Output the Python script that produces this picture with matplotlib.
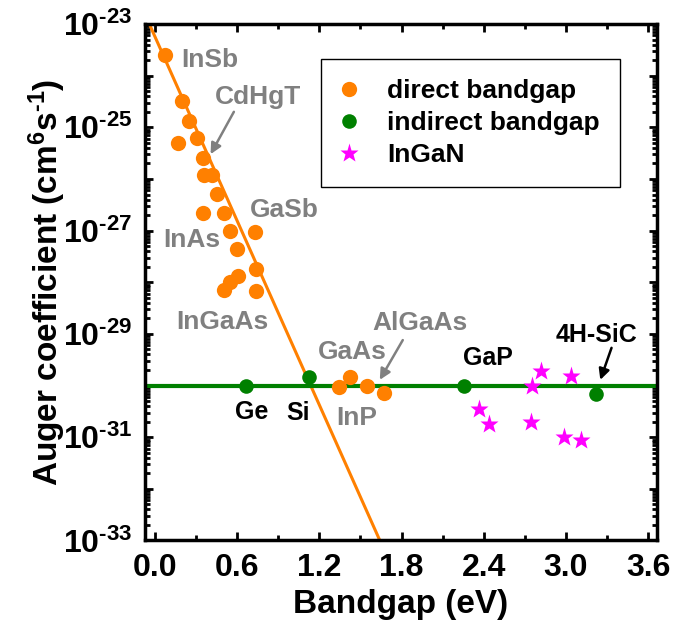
import numpy as np
import matplotlib
matplotlib.use("Agg")
import matplotlib.pyplot as plt
from matplotlib.ticker import FixedLocator, LogLocator, NullFormatter

# Auger coefficients vs bandgap
direct_eg = [0.073, 0.195, 0.250, 0.170, 0.304, 0.352, 0.357, 0.414, 0.454, 0.352,
             0.505, 0.547, 0.729, 0.596, 0.737, 0.503, 0.547, 0.608, 0.737,
             1.344, 1.422, 1.549, 1.673]
direct_c = [2.5e-24, 3.2e-25, 1.35e-25, 4.9e-26, 6.2e-26, 2.6e-26, 1.2e-26, 1.2e-26,
            5.1e-27, 2.2e-27, 2.2e-27, 1.0e-27, 9.3e-28, 4.4e-28, 1.8e-28, 7.1e-29,
            1.0e-28, 1.3e-28, 6.8e-29,
            9.3e-31, 1.45e-30, 9.8e-31, 7.1e-31]

indirect_eg = [0.664, 1.125, 2.256, 3.222]   # Ge, Si, GaP, 4H-SiC
indirect_c = [1.0e-30, 1.45e-30, 1.0e-30, 6.9e-31]

ingan_eg = [2.365, 2.438, 2.815, 2.755, 2.742, 3.039, 2.985, 3.112]
ingan_c = [3.5e-31, 1.8e-31, 1.95e-30, 9.8e-31, 2.0e-31, 1.5e-30, 1.0e-31, 8.9e-32]

# fitted trend for direct gap materials (two end points) and indirect level
fit_eg = [-0.075, 1.65]
fit_c = [10 ** -22.80, 10 ** -33.05]
indirect_level = 1e-30

plt.rcParams['font.family'] = ['Liberation Sans', 'DejaVu Sans']
plt.rcParams['font.weight'] = 'bold'
plt.rcParams['mathtext.fontset'] = 'custom'
plt.rcParams['mathtext.rm'] = 'Liberation Sans:bold'
plt.rcParams['mathtext.it'] = 'Liberation Sans:bold'
plt.rcParams['mathtext.bf'] = 'Liberation Sans:bold'

HY = '\u2010'  # plain hyphen for exponents

orange = '#ff8000'
green = '#008000'
magenta = '#ff00ff'
gray = '#808080'

fig = plt.figure(figsize=(6.74, 6.32), dpi=100)
ax = fig.add_axes([0.2151, 0.1448, 0.7597, 0.8172])

ax.plot(fit_eg, fit_c, color=orange, lw=2.2, zorder=2)
ax.axhline(indirect_level, color=green, lw=3, zorder=2)

ax.plot(direct_eg, direct_c, 'o', color=orange, ms=11, mec='none',
        label='direct bandgap', zorder=3)
ax.plot(indirect_eg, indirect_c, 'o', color=green, ms=10.5, mec='none',
        label='indirect bandgap', zorder=3)
ax.plot(ingan_eg, ingan_c, '*', color=magenta, ms=14, mec='none',
        label='InGaN', zorder=3)

ax.set_yscale('log')
ax.set_xlim(-0.073, 3.665)
ax.set_ylim(1e-33, 1e-23)

# x ticks
ax.set_xticks(np.arange(0, 3.61, 0.6))
ax.set_xticklabels(['0.0', '0.6', '1.2', '1.8', '2.4', '3.0', '3.6'])
ax.xaxis.set_minor_locator(FixedLocator(np.arange(0.3, 3.5, 0.6)))

# y ticks: every decade, labels every second decade
decades = np.arange(-33, -22)
ax.yaxis.set_major_locator(FixedLocator(10.0 ** decades))
ax.set_yticklabels([r'$\mathregular{10^{%s%d}}$' % (HY, -d) if d % 2 else ''
                    for d in decades])
ax.yaxis.set_minor_locator(LogLocator(base=10, subs=np.arange(2, 10), numticks=20))
ax.yaxis.set_minor_formatter(NullFormatter())

ax.tick_params(which='both', direction='in', top=True, right=True, width=2)
ax.tick_params(which='major', length=6, labelsize=23, pad=9)
ax.tick_params(which='minor', length=3.5)
for sp in ax.spines.values():
    sp.set_linewidth(2.5)

ax.set_xlabel('Bandgap (eV)', fontsize=24, fontweight='bold', labelpad=4)
ax.set_ylabel(r'Auger coefficient (cm$^{6}$s$^{%s1}$)' % HY, fontsize=24,
              fontweight='bold', labelpad=-4)

leg = ax.legend(loc='upper left', bbox_to_anchor=(0.344, 0.932), fontsize=19,
                frameon=True, fancybox=False, edgecolor='black', framealpha=1,
                borderpad=0.75, labelspacing=0.3, handletextpad=1.15,
                handlelength=0.6, borderaxespad=0)
leg.get_frame().set_linewidth(1.0)
for t in leg.get_texts():
    t.set_fontweight('bold')

# material labels
gray_labels = [('InSb', 0.401, -23.70), ('GaSb', 0.941, -26.60),
               ('InAs', 0.270, -27.18), ('InGaAs', 0.489, -28.77),
               ('GaAs', 1.444, -29.35), ('InP', 1.473, -30.63)]
for name, x, ly in gray_labels:
    ax.text(x, 10 ** ly, name, color=gray, fontsize=19, fontweight='bold',
            ha='center', va='center')

black_labels = [('Ge', 0.708, -30.51), ('Si', 1.043, -30.53),
                ('GaP', 2.429, -29.47)]
for name, x, ly in black_labels:
    ax.text(x, 10 ** ly, name, color='black', fontsize=18, fontweight='bold',
            ha='center', va='center')

arrow_labels = [('CdHgT', 0.751, -24.41, 0.576, -24.70, 0.406, -25.52, gray, 19),
                ('AlGaAs', 1.933, -28.79, 1.809, -29.12, 1.641, -29.89, gray, 19),
                ('4H-SiC', 3.224, -29.02, 3.333, -29.27, 3.251, -29.89, 'black', 18)]
for name, tx, ty, x0, y0, x1, y1, col, fs in arrow_labels:
    ax.text(tx, 10 ** ty, name, color=col, fontsize=fs, fontweight='bold',
            ha='center', va='center')
    ax.annotate('', xy=(x1, 10 ** y1), xytext=(x0, 10 ** y0),
                arrowprops=dict(arrowstyle='-|>', color=col, lw=1.8,
                                mutation_scale=16, shrinkA=0, shrinkB=0))

fig.savefig('out.png', dpi=100)
